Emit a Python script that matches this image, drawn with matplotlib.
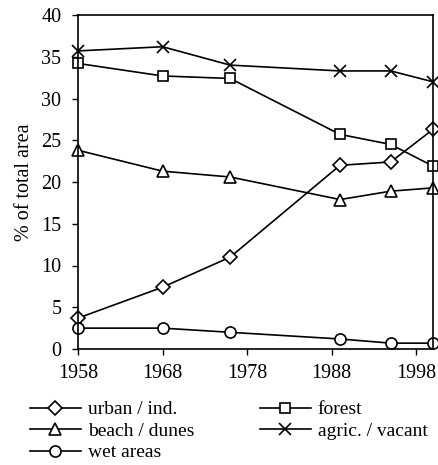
import matplotlib.pyplot as plt

plt.rcParams['font.family'] = ['Liberation Serif', 'DejaVu Serif']

years = [1958, 1968, 1976, 1989, 1995, 2000]
urban = [3.7, 7.4, 11.0, 22.0, 22.4, 26.3]
forest = [34.2, 32.7, 32.4, 25.7, 24.5, 21.9]
beach = [23.8, 21.3, 20.6, 17.9, 18.9, 19.3]
agric = [35.7, 36.2, 34.0, 33.3, 33.3, 32.0]
wet = [2.5, 2.5, 2.0, 1.2, 0.7, 0.7]

fs = 14.5

fig = plt.figure(figsize=(4.38, 4.65), dpi=100)
ax = fig.add_axes([78/438, 1 - 349/465, 355/438, 334/465])

style = dict(color='black', lw=1.2, markerfacecolor='white',
             markeredgecolor='black', markeredgewidth=1.2, clip_on=False)
h_urban, = ax.plot(years, urban, marker='D', ms=7, label='urban / ind.', **style)
h_forest, = ax.plot(years, forest, marker='s', ms=7, label='forest', **style)
h_beach, = ax.plot(years, beach, marker='^', ms=8, label='beach / dunes', **style)
h_agric, = ax.plot(years, agric, marker='x', ms=9, label='agric. / vacant', **style)
h_wet, = ax.plot(years, wet, marker='o', ms=8, label='wet areas', **style)

ax.set_xlim(1958, 2000)
ax.set_ylim(0, 40)
ax.set_xticks([1958, 1968, 1978, 1988, 1998])
ax.set_yticks(range(0, 41, 5))
ax.tick_params(labelsize=fs, length=4, width=1, direction='out', pad=8)
ax.tick_params(axis='x', pad=7)
for s in ax.spines.values():
    s.set_linewidth(1.2)
ax.set_ylabel('% of total area', fontsize=fs)
ax.yaxis.set_label_coords(-0.125, 0.5)

handles = [h_urban, h_beach, h_wet, h_forest, h_agric]
ax.legend(handles=handles, loc='upper left', bbox_to_anchor=(-0.135, -0.155),
          ncol=2, frameon=False, fontsize=14, handlelength=2.6,
          handletextpad=0.36, labelspacing=0.2, columnspacing=3.4,
          borderaxespad=0, borderpad=0)

plt.savefig('out.png', dpi=100)
